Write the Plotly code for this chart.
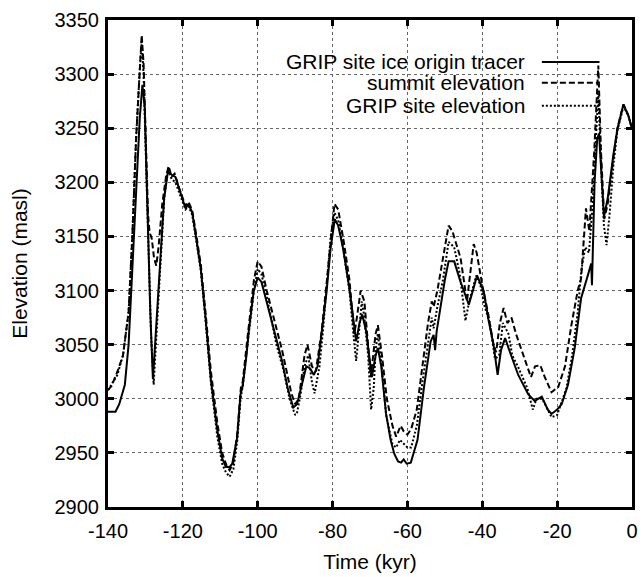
import plotly.graph_objects as go

# ---------------- data ----------------
tracer_t = [-140, -138, -137, -135.5, -134.5, -133.5, -132.5, -131.5, -130.8, -130.2, -129.5, -128.7, -128,
            -127.2, -126, -125, -124, -123, -122, -121, -120, -119.3, -118.5, -117.5, -116.5, -115.2, -114,
            -112.5, -110.8, -109.5, -108.5, -107.5, -106.8, -105.5, -104.6, -104, -103, -102.4, -101.1, -100,
            -99, -97.6, -95, -93.5, -92, -90.5, -89.5, -88.5, -87, -86, -85, -84, -83.4, -82.5, -81.6, -80.5,
            -79.4, -78.5, -77.2, -75.5, -74.5, -73.7, -72.8, -72.1, -71, -70, -69.5, -68.5, -67.9, -67, -65.7,
            -64.5, -63.5, -62.5, -61.7, -61, -60.2, -59.1, -57.3, -55.6, -53.8, -53, -52.6, -52.2, -51.2, -50,
            -49, -47.5, -46, -44.9, -43.6, -42.5, -41.4, -39.6, -38.3, -37, -35.9, -35, -33.9, -32.6, -30.4,
            -27.7, -26, -24.1, -22.5, -21.5, -20, -18.8, -17.1, -15.3, -13.6, -11.8, -10.9, -10.7, -10, -9.3,
            -8.8, -7.5, -6.5, -5, -3.9, -2.3, -1, 0]
tracer_e = [2988, 2988, 2995, 3013, 3050, 3120, 3200, 3260, 3290, 3270, 3180, 3080, 3018,
            3060, 3130, 3185, 3210, 3207, 3205, 3195, 3185, 3176, 3180, 3172, 3150, 3120, 3077,
            3017, 2971, 2945, 2937, 2937, 2940, 2964, 3004, 3012, 3040, 3062, 3099, 3112,
            3108, 3090, 3055, 3035, 3010, 2992, 2995, 3010, 3030, 3028, 3022, 3030, 3047, 3070, 3099, 3140,
            3166, 3160, 3139, 3102, 3075, 3053, 3070, 3078, 3062, 3030, 3020, 3040, 3047, 3030, 2986,
            2962, 2949, 2942, 2941, 2944, 2940, 2941, 2962, 3010, 3053, 3059, 3045, 3062, 3086, 3110,
            3127, 3127, 3110, 3099, 3087, 3100, 3114, 3099, 3072, 3050, 3022, 3045, 3056, 3043, 3022,
            3004, 2998, 3002, 2990, 2986, 2990, 2995, 3013, 3047, 3093, 3114, 3125, 3105, 3200, 3240,
            3245, 3168, 3185, 3225, 3249, 3272, 3262, 3249]

summit_t = [-140, -139, -137.5, -136, -134.5, -133.5, -132.5, -131.5, -131, -130.5, -130, -129.3, -128.9,
            -128.3, -127.7, -127.1, -126.5, -125.5, -124.5, -123.8, -123, -122.2, -121, -120, -119.3, -118.5,
            -117.5, -116.5, -115.2, -114, -112.5, -110.8, -109.5, -108.3, -107.5, -106.6, -105.5, -104.5,
            -104, -103, -102.2, -101, -100, -99, -97.6, -95, -93.5, -91, -90, -89, -87.5, -86.7, -85.5, -84.5,
            -83, -81.5, -79.5, -78.5, -77, -75.5, -74.2, -73.5, -72.5, -71.5, -70.5, -69.8, -68.5, -67.9,
            -66.8, -65.5, -64, -63, -61.8, -61, -60, -59, -57.5, -56, -54.5, -53.5, -53, -52, -50.5, -49,
            -48, -45.8, -44.1, -43, -42.3, -41.5, -40, -38.5, -37, -36.3, -35.3, -34.3, -33.3, -32.2, -31,
            -29.6, -27, -25.9, -24.5, -23.3, -21.5, -19.7, -17.9, -16.2, -14.5, -13.6, -12.3, -11.4, -10.1,
            -9.0, -8.3, -7.4, -6.5, -5, -3.9, -2.3, -1, 0]
summit_e = [3008, 3012, 3025, 3040, 3080, 3150, 3240, 3310, 3336, 3310, 3250, 3170, 3154,
            3148, 3130, 3123, 3140, 3180, 3205, 3215, 3205, 3208, 3195, 3186, 3178, 3182,
            3174, 3153, 3124, 3082, 3025, 2978, 2950, 2938, 2934, 2940, 2966, 3010,
            3016, 3048, 3072, 3110, 3127, 3122, 3100, 3065, 3045, 3005, 2995, 3000, 3040, 3050, 3030, 3025,
            3060, 3110, 3180, 3175, 3145, 3110, 3060, 3075, 3100, 3090, 3050, 3020, 3060, 3068,
            3040, 3000, 2975, 2965, 2975, 2970, 2967, 2972, 2990, 3030, 3070, 3090, 3085, 3100, 3130, 3160,
            3155, 3130, 3090, 3120, 3143, 3135, 3105, 3080, 3050, 3043, 3070, 3084, 3070, 3075, 3060,
            3046, 3020, 3030, 3031, 3020, 3006, 3011, 3030, 3068, 3100, 3111, 3176, 3155, 3228,
            3308, 3230, 3166, 3180, 3222, 3250, 3272, 3262, 3250]

site_t = [-140, -137.5, -136, -134.5, -133.5, -132.5, -131.5, -131, -130.5, -130, -129.3, -128.5, -127.8,
          -127, -126, -125, -124, -123, -122, -121, -120, -119.3, -118.5, -117.5, -116.5, -115.2, -114,
          -112.5, -110.8, -109.5, -108.5, -107.5, -106.5, -105.5, -104.6, -104, -102.4, -101, -100, -99,
          -97.6, -95, -93, -91.5, -90, -89.5, -88.5, -87.5, -86.5, -85.5, -84.8, -83.5, -82.5, -81.5, -80.5,
          -79.5, -78.5, -77.2, -75.5, -74.3, -73.7, -73, -72.2, -71.5, -70.5, -69.7, -69, -68.5, -67.9, -67,
          -65.7, -64, -63, -62, -61, -60, -59, -57.5, -56, -54.5, -53.5, -53, -52, -50.5, -49, -47.5, -46,
          -44.5, -43.5, -41.6, -40.5, -39.5, -38, -36.6, -35.5, -34.5, -33, -32, -30.5, -28, -26.5, -25.5,
          -24, -22.5, -21.5, -20, -19, -17.5, -16, -14.5, -13.5, -12.5, -11.5, -10.5, -9.5, -9.0, -8.3,
          -7.5, -6.8, -6, -5, -3.9, -2.3, -1, 0]
site_e = [3008, 3022, 3040, 3080, 3150, 3240, 3305, 3330, 3300, 3240, 3150, 3060, 3013,
          3060, 3130, 3185, 3212, 3203, 3200, 3190, 3182, 3175, 3178, 3170, 3148, 3118, 3075,
          3015, 2965, 2940, 2932, 2928, 2935, 2960, 3000, 3012, 3060, 3100, 3120, 3115,
          3095, 3050, 3025, 3000, 2985, 2987, 3005, 3030, 3040, 3015, 3005, 3030, 3065, 3105, 3150,
          3172, 3165, 3140, 3100, 3055, 3035, 3060, 3090, 3075, 3040, 2990, 3010, 3045, 3060, 3035,
          2985, 2958, 2955, 2962, 2958, 2955, 2955, 2975, 3015, 3050, 3075, 3065, 3085, 3110, 3145, 3140, 3115,
          3072, 3090, 3114, 3105, 3087, 3070, 3037, 3040, 3070, 3060, 3040, 3030, 3010, 2990, 3000,
          3000, 2990, 2983, 2985, 2995, 3010, 3040, 3080, 3120, 3140, 3135, 3180, 3250, 3282, 3220,
          3160, 3142, 3170, 3215, 3248, 3270, 3262, 3250]

x_ticks = [-140, -120, -100, -80, -60, -40, -20, 0]
x_tick_labels = ["-140", "-120", "-100", "-80", "-60", "-40", "-20", "0"]
y_ticks = [2900, 2950, 3000, 3050, 3100, 3150, 3200, 3250, 3300, 3350]
y_tick_labels = [str(v) for v in y_ticks]

legend_names = ["GRIP site ice origin tracer", "summit elevation", "GRIP site elevation"]
dash_styles = ["solid", "6px,3px", "2px,2px"]

# ---------------- figure ----------------
FONT = "Liberation Sans, Arial, sans-serif"
fig = go.Figure()
series = [(tracer_t, tracer_e), (summit_t, summit_e), (site_t, site_e)]
for (t, e), name, dash in zip(series, legend_names, dash_styles):
    fig.add_trace(go.Scatter(x=t, y=e, mode="lines", name=name, showlegend=False,
                             line=dict(color="black", width=2, dash=dash)))

# white box behind the legend hiding the grid
fig.add_shape(type="rect", xref="paper", yref="paper", x0=0.1415, x1=0.962, y0=0.804, y1=0.943,
              fillcolor="white", line=dict(width=0), layer="between")

# manual legend (text right, sample on right side like gnuplot)
leg_y = [0.914, 0.871, 0.824]
for name, dash, yy in zip(legend_names, dash_styles, leg_y):
    fig.add_annotation(x=0.80, y=yy, xref="paper", yref="paper", text=name, showarrow=False,
                       xanchor="right", yanchor="middle", font=dict(size=21, color="black", family=FONT))
    fig.add_shape(type="line", xref="paper", yref="paper", x0=0.828, x1=0.938, y0=yy, y1=yy,
                  line=dict(color="black", width=2, dash=dash))

axis_common = dict(showline=True, linecolor="black", linewidth=3, mirror="ticks",
                   ticks="inside", ticklen=6, tickwidth=3, tickcolor="black",
                   showgrid=True, gridcolor="#666666", gridwidth=1, griddash="dot",
                   zeroline=False, tickfont=dict(size=20, color="black", family=FONT))

fig.update_xaxes(range=[-140, 0], tickvals=x_ticks, ticktext=x_tick_labels, ticklabelstandoff=4,
                 title=dict(text="Time (kyr)", font=dict(size=21, color="black", family=FONT), standoff=14),
                 **axis_common)
fig.update_yaxes(range=[2900, 3350], tickvals=y_ticks, ticktext=y_tick_labels, ticklabelstandoff=2,
                 title=dict(text="Elevation (masl)", font=dict(size=21, color="black", family=FONT), standoff=22),
                 **axis_common)

fig.update_layout(width=644, height=577, margin=dict(l=108, r=6, t=20, b=67),
                  paper_bgcolor="white", plot_bgcolor="white",
                  font=dict(family=FONT, color="black"))

fig.write_html("out.html")
